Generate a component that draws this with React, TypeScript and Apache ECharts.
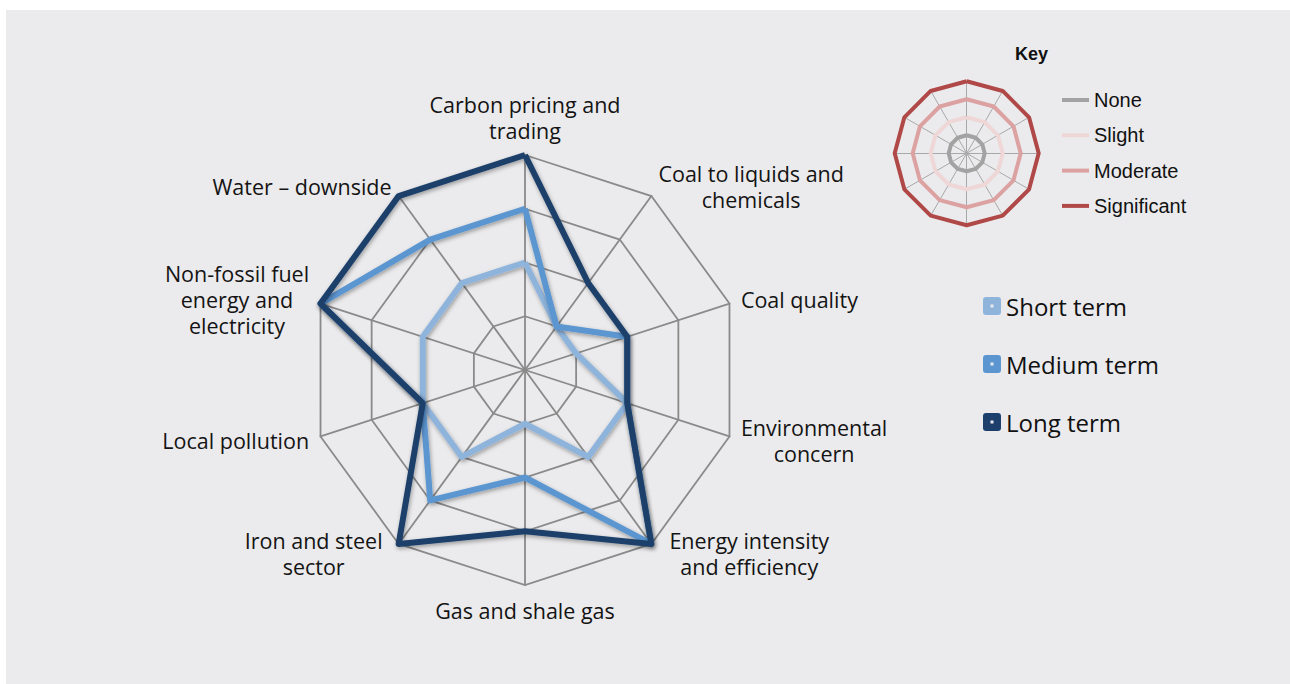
import React, { useEffect, useRef } from "react";
import * as echarts from "echarts";

// Axes in clockwise order starting from the top
const categories = [
  "Carbon pricing and\ntrading",
  "Coal to liquids and\nchemicals",
  "Coal quality",
  "Environmental\nconcern",
  "Energy intensity\nand efficiency",
  "Gas and shale gas",
  "Iron and steel\nsector",
  "Local pollution",
  "Non-fossil fuel\nenergy and\nelectricity",
  "Water – downside",
];
const seriesNames = ["Short term", "Medium term", "Long term"];
const shortTerm = [2, 1, 1, 2, 2, 1, 2, 2, 2, 2];
const mediumTerm = [3, 1, 2, 2, 4, 2, 3, 2, 4, 3];
const longTerm = [4, 2, 2, 2, 4, 3, 4, 2, 4, 4];
const levelMax = 4;

// Key (small radar)
const keyLevels = ["None", "Slight", "Moderate", "Significant"];
const keySpokes = ["k1", "k2", "k3", "k4", "k5", "k6", "k7", "k8", "k9", "k10", "k11", "k12"];
const keyNone = [1, 1, 1, 1, 1, 1, 1, 1, 1, 1, 1, 1];
const keySlight = [2, 2, 2, 2, 2, 2, 2, 2, 2, 2, 2, 2];
const keyModerate = [3, 3, 3, 3, 3, 3, 3, 3, 3, 3, 3, 3];
const keySignificant = [4, 4, 4, 4, 4, 4, 4, 4, 4, 4, 4, 4];

const termColors = ["#8fb4dc", "#5b96d1", "#1c406b"];
const keyColors = ["#a2a2a2", "#efd7d7", "#dca2a2", "#b04848"];

// ECharts places radar indicators counter-clockwise; reorder to get clockwise
const toCcw = <T,>(arr: T[]): T[] => [arr[0], ...arr.slice(1).reverse()];

const labelFont = "'Open Sans', 'DejaVu Sans', sans-serif";
const keyFont = "'Liberation Sans', Arial, sans-serif";

export default function App() {
  const ref = useRef<HTMLDivElement>(null);

  useEffect(() => {
    if (!ref.current) return;
    const chart = echarts.init(ref.current, null, { renderer: "svg" });

    const labelStyle: any = {
      fontFamily: labelFont,
      fontSize: 21.5,
      lineHeight: 26,
      color: "#141414",
      align: "center",
    };
    const nudge: Record<string, string> = {
      "Energy intensity\nand efficiency": "e",
      "Iron and steel\nsector": "i",
    };
    const shadow = {
      shadowColor: "rgba(0,0,0,0.35)",
      shadowBlur: 4,
      shadowOffsetX: 1,
      shadowOffsetY: 2,
    };
    const termData = [shortTerm, mediumTerm, longTerm];
    const keyData = [keyNone, keySlight, keyModerate, keySignificant];

    const option: any = {
      animation: false,
      backgroundColor: "#ebebed",
      color: termColors,
      title: {
        text: "Key",
        left: 1009,
        top: 34,
        padding: 0,
        textStyle: {
          fontFamily: keyFont,
          fontSize: 18,
          fontWeight: "bold",
          color: "#111",
          lineHeight: 20,
        },
      },
      legend: [
        {
          data: seriesNames,
          orient: "vertical",
          left: 977,
          top: 284,
          padding: 0,
          itemGap: 34,
          itemWidth: 18,
          itemHeight: 18,
          selectedMode: false,
          icon:
            "path://M3,0H15Q18,0,18,3V15Q18,18,15,18H3Q0,18,0,15V3Q0,0,3,0ZM7.5,7.5V10.5H10.5V7.5Z",
          itemStyle: { borderWidth: 0 },
          textStyle: {
            fontFamily: labelFont,
            fontSize: 24,
            lineHeight: 24,
            color: "#111",
          },
        },
        {
          data: keyLevels,
          orient: "vertical",
          left: 1056,
          top: 79,
          padding: 0,
          itemGap: 13.3,
          itemWidth: 27,
          itemHeight: 4,
          selectedMode: false,
          icon: "rect",
          itemStyle: { borderWidth: 0 },
          textStyle: {
            fontFamily: keyFont,
            fontSize: 20,
            lineHeight: 22,
            color: "#111",
          },
        },
      ],
      radar: [
        {
          center: [519, 360],
          radius: 215,
          startAngle: 90,
          shape: "polygon",
          splitNumber: 4,
          nameGap: 12,
          indicator: toCcw(categories).map((n) => ({ name: n, min: 0, max: levelMax })),
          axisName: {
            color: "#141414",
            fontFamily: labelFont,
            fontSize: 21.5,
            formatter: (name: string) => {
              const k = nudge[name] || "c";
              return name
                .split("\n")
                .map((l) => `{${k}|${l}}`)
                .join("\n");
            },
            rich: {
              c: labelStyle,
              e: { ...labelStyle, padding: [0, 0, 0, 11] },
              i: { ...labelStyle, padding: [0, 9, 0, 0] },
            },
          },
          splitLine: { lineStyle: { color: "#8a8a8a", width: 1.8 } },
          splitArea: { show: false },
          axisLine: { lineStyle: { color: "#8a8a8a", width: 1.8 } },
          axisTick: { show: false },
          axisLabel: { show: false },
        },
        {
          center: [960.7, 143.3],
          radius: 72,
          startAngle: 90,
          shape: "polygon",
          splitNumber: 4,
          indicator: keySpokes.map((n) => ({ name: n, min: 0, max: levelMax })),
          axisName: { show: false },
          splitLine: { show: false },
          splitArea: { show: false },
          axisLine: { lineStyle: { color: "#a8a8a8", width: 1 } },
        },
      ],
      series: [
        ...seriesNames.map((name, i) => ({
          type: "radar",
          name,
          radarIndex: 0,
          symbol: "none",
          z: 2 + i,
          itemStyle: { color: termColors[i] },
          lineStyle: { color: termColors[i], width: 6, ...shadow },
          data: [
            {
              name,
              value: toCcw(termData[i]),
              itemStyle: { color: termColors[i] },
              lineStyle: { color: termColors[i], width: 6, ...shadow },
            },
          ],
        })),
        {
          type: "radar",
          name: "Key",
          radarIndex: 1,
          symbol: "none",
          itemStyle: { color: "#b04848" },
          data: keyLevels.map((name, i) => ({
            name,
            value: keyData[i],
            itemStyle: { color: keyColors[i] },
            lineStyle: { color: keyColors[i], width: 4 },
          })),
        },
      ],
    };

    chart.setOption(option);
    return () => chart.dispose();
  }, []);

  return (
    <div
      style={{
        position: "fixed",
        left: 0,
        top: 0,
        width: 1290,
        height: 684,
        background: "#ffffff",
      }}
    >
      <div
        ref={ref}
        style={{ position: "absolute", left: 6, top: 10, width: 1284, height: 674 }}
      />
    </div>
  );
}
